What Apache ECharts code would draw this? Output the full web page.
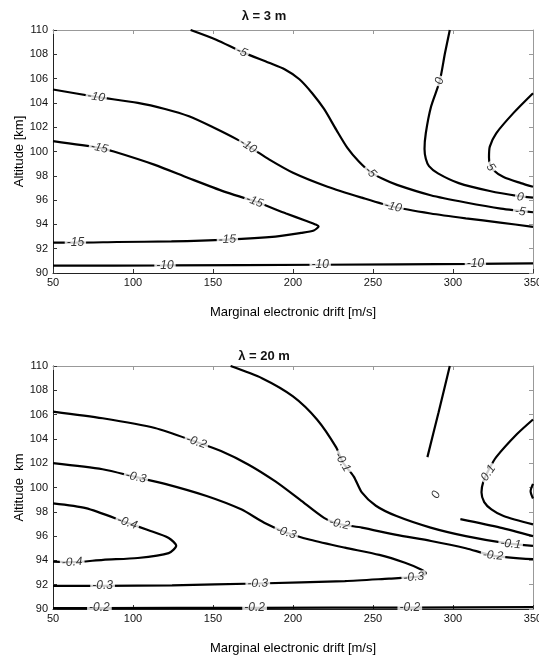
<!DOCTYPE html>
<html>
<head>
<meta charset="utf-8">
<script src="https://cdn.jsdelivr.net/npm/echarts@6/dist/echarts.min.js"></script>
<style>
html,body{margin:0;padding:0;background:#fff;}
#c{width:539px;height:666px;}
</style>
</head>
<body>
<div id="c"></div>
<script>
// ---------- data (λ = 3 m) ----------
const c3_m5  = [[136,110],[152,109.2],[168,108.2],[185,107.3],[195,106.75],[204,105.95],[212,104.8],[219.4,103.5],[227,101.8],[234,100.3],[241,99.2],[248.5,98.3],[256,97.75],[265,97.25],[286,96.4],[308,95.8],[330,95.3],[350,95.0]];
const c3_m10a = [[50,105.1],[77,104.5],[103,104.0],[120,103.5],[135,102.9],[150,102.0],[165,101.0],[175,100.2],[185,99.35],[200,98.25],[221.6,97.1],[243,96.2],[262.6,95.45],[286,94.9],[308,94.5],[329.5,94.15],[350,93.8]];
const c3_m15 = [[50,100.85],[79,100.3],[88,100.0],[113.7,98.9],[135,97.8],[157,96.7],[176,95.9],[195.7,94.9],[208,94.3],[214,94.0],[216,93.85],[213,93.5],[205,93.3],[189,93.0],[159,92.75],[124,92.6],[90,92.55],[64,92.5],[50,92.5]];
const c3_m10b = [[50,90.6],[120,90.62],[217,90.68],[314,90.75],[350,90.8]];
const c3_0 = [[298,110],[295,108.1],[291.7,105.8],[286.3,103.7],[283,101.5],[282.2,100.2],[283,99.4],[285,98.8],[290.6,98.2],[303.6,97.4],[323,96.75],[340,96.35],[350,96.2]];
const c3_5 = [[350,104.8],[338,103.2],[327,101.5],[323,100.4],[322.5,99.5],[323,99.0],[325,98.5],[331.6,97.9],[342.4,97.4],[350,97.1]];
const labels3 = [[168,108.2,'-5'],[77,104.5,'-10'],[172,100.45,'-10'],[248.5,98.3,'-5'],[262.6,95.45,'-10'],[79,100.3,'-15'],[176,95.9,'-15'],[159,92.75,'-15'],[64,92.5,'-15'],[120,90.62,'-10'],[217,90.68,'-10'],[314,90.75,'-10'],[291.7,105.8,'0'],[323.5,98.7,'5'],[342,96.25,'0'],[342,95.05,'-5']];

// ---------- data (λ = 20 m) ----------
const c20_m01 = [[161,110],[180.6,109.0],[200,107.5],[215,105.6],[227,103.3],[231,102.1],[238,100.9],[243,99.6],[251.8,98.5],[264.7,97.65],[286,96.7],[308,96.0],[334,95.4],[350,95.2]];
const c20_m02 = [[50,106.25],[81,105.7],[113.7,104.9],[139.6,103.75],[155,103.0],[172,101.9],[189,100.5],[204.3,99.0],[219.4,97.5],[229,97.0],[243,96.7],[264.7,96.1],[286.3,95.6],[308,95.0],[325,94.4],[350,94.1]];
const c20_m03 = [[50,102.0],[81,101.5],[101.8,100.85],[120,100.3],[146,99.3],[167.6,98.2],[182,97.1],[195.7,96.3],[210.8,95.7],[232.4,95.05],[254,94.45],[270,93.8],[280,93.25],[283,92.95],[281,92.75],[275.5,92.62],[260,92.5],[232.4,92.3],[178,92.1],[124.4,91.95],[81,91.9],[50,91.9]];
const c20_m04 = [[50,98.7],[70.5,98.3],[96.4,97.1],[109.3,96.5],[122.3,95.85],[127,95.2],[122.3,94.6],[103,94.2],[81.3,94.05],[62,93.85],[50,93.9]];
const c20_m02b = [[50,90.08],[79,90.08],[176,90.1],[273,90.12],[350,90.15]];
const c20_0a = [[298,110],[291,106.2],[284,102.5]];
const c20_0b = [[304.6,97.4],[329.5,96.7],[350,96.0]];
const c20_01 = [[350,105.6],[340,104.4],[327,102.5],[322.5,101.5],[319,100.5],[317.8,99.6],[319.5,98.8],[324,98.2],[331.6,97.65],[350,96.96]];
const c20_02 = [[350,100.3],[348.5,99.7],[350,99.1]];
const labels20 = [[139.6,103.75,'-0.2'],[101.8,100.85,'-0.3'],[96.4,97.1,'-0.4'],[62,93.85,'-0.4'],[195.7,96.3,'-0.3'],[229,97.0,'-0.2'],[231,102.1,'-0.1'],[289.5,99.4,'0'],[322,101.2,'0.1'],[336,95.35,'-0.1'],[325,94.4,'-0.2'],[275.5,92.62,'-0.3'],[178,92.1,'-0.3'],[81,91.9,'-0.3'],[79,90.1,'-0.2'],[176,90.12,'-0.2'],[273,90.14,'-0.2']];

// ---------- style (rotation of contour labels, degrees) ----------
const rot3 = [-23,-9,-33,-46,-13,-13,-20,2,0,0,0,0,75,-55,-8,-8];
const rot20 = [-19,-13,-19,3,-18,-14,-60,65,55,-6,-5,5,1,0,0,0,0];

const FONT = "'Liberation Sans', Arial, sans-serif";
const chart = echarts.init(document.getElementById('c'), null, {renderer:'canvas'});

function xAx(gi, main){
  return {
    type:'value', gridIndex:gi, min:50, max:350, interval:50,
    position: main ? 'bottom' : 'top',
    axisLine:{show:true, onZero:false, lineStyle:{color: main ? '#222' : '#999', width:1}},
    axisTick:{show:true, inside:true, length:4, lineStyle:{color: main ? '#333' : '#999'}},
    axisLabel:{show:main, color:'#111', fontSize:11, fontFamily:FONT, margin:4},
    splitLine:{show:false},
    name: main ? 'Marginal electronic drift [m/s]' : '',
    nameLocation:'middle', nameGap:33, nameMoveOverlap:false,
    nameTextStyle:{color:'#000', fontSize:13, fontFamily:FONT}
  };
}
function yAx(gi, main, nm){
  return {
    type:'value', gridIndex:gi, min:90, max:110, interval:2,
    position: main ? 'left' : 'right',
    axisLine:{show:true, onZero:false, lineStyle:{color: main ? '#222' : '#999', width:1}},
    axisTick:{show:true, inside:true, length:4, lineStyle:{color: main ? '#333' : '#999'}},
    axisLabel:{show:main, color:'#111', fontSize:11, fontFamily:FONT, margin:5},
    splitLine:{show:false},
    name: main ? nm : '',
    nameLocation:'middle', nameGap:27, nameRotate:90, nameMoveOverlap:false,
    nameTextStyle:{color:'#000', fontSize:13, fontFamily:FONT}
  };
}
function contour(data, xi, yi){
  return {type:'line', data:data, xAxisIndex:xi, yAxisIndex:yi, smooth:0.25,
    showSymbol:false, symbol:'none', lineStyle:{color:'#000', width:2.2}, z:3, silent:true};
}
function labelSeries(arr, rots, xi, yi){
  return {type:'scatter', xAxisIndex:xi, yAxisIndex:yi, symbolSize:1, z:10, silent:true,
    itemStyle:{color:'rgba(0,0,0,0)'},
    data: arr.map((d,i)=>({value:[d[0],d[1]], label:{formatter:d[2], rotate:rots[i]}})),
    label:{show:true, position:'inside', color:'#000', fontSize:12, fontStyle:'italic',
      fontFamily:FONT, backgroundColor:'#fff', padding:[0,2]}};
}

const option = {
  backgroundColor:'#fff',
  animation:false,
  title:[
    {text:'λ = 3 m', left:259, top:5, textAlign:'center',
      textStyle:{fontSize:13, fontWeight:'bold', color:'#111', fontFamily:FONT}},
    {text:'λ = 20 m', left:259, top:345, textAlign:'center',
      textStyle:{fontSize:13, fontWeight:'bold', color:'#111', fontFamily:FONT}}
  ],
  grid:[
    {left:53, top:30, width:480, height:243, outerBoundsMode:'none', containLabel:false},
    {left:53, top:366, width:480, height:243, outerBoundsMode:'none', containLabel:false}
  ],
  xAxis:[xAx(0,true), xAx(0,false), xAx(1,true), xAx(1,false)],
  yAxis:[yAx(0,true,'Altitude [km]'), yAx(0,false,''), yAx(1,true,'Altitude  km'), yAx(1,false,'')],
  series:[
    contour(c3_m5,0,0), contour(c3_m10a,0,0), contour(c3_m15,0,0), contour(c3_m10b,0,0),
    contour(c3_0,0,0), contour(c3_5,0,0),
    labelSeries(labels3, rot3, 0, 0),
    contour(c20_m01,2,2), contour(c20_m02,2,2), contour(c20_m03,2,2), contour(c20_m04,2,2),
    contour(c20_m02b,2,2), contour(c20_0a,2,2), contour(c20_0b,2,2), contour(c20_01,2,2),
    contour(c20_02,2,2),
    labelSeries(labels20, rot20, 2, 2)
  ]
};
chart.setOption(option);
</script>
</body>
</html>
